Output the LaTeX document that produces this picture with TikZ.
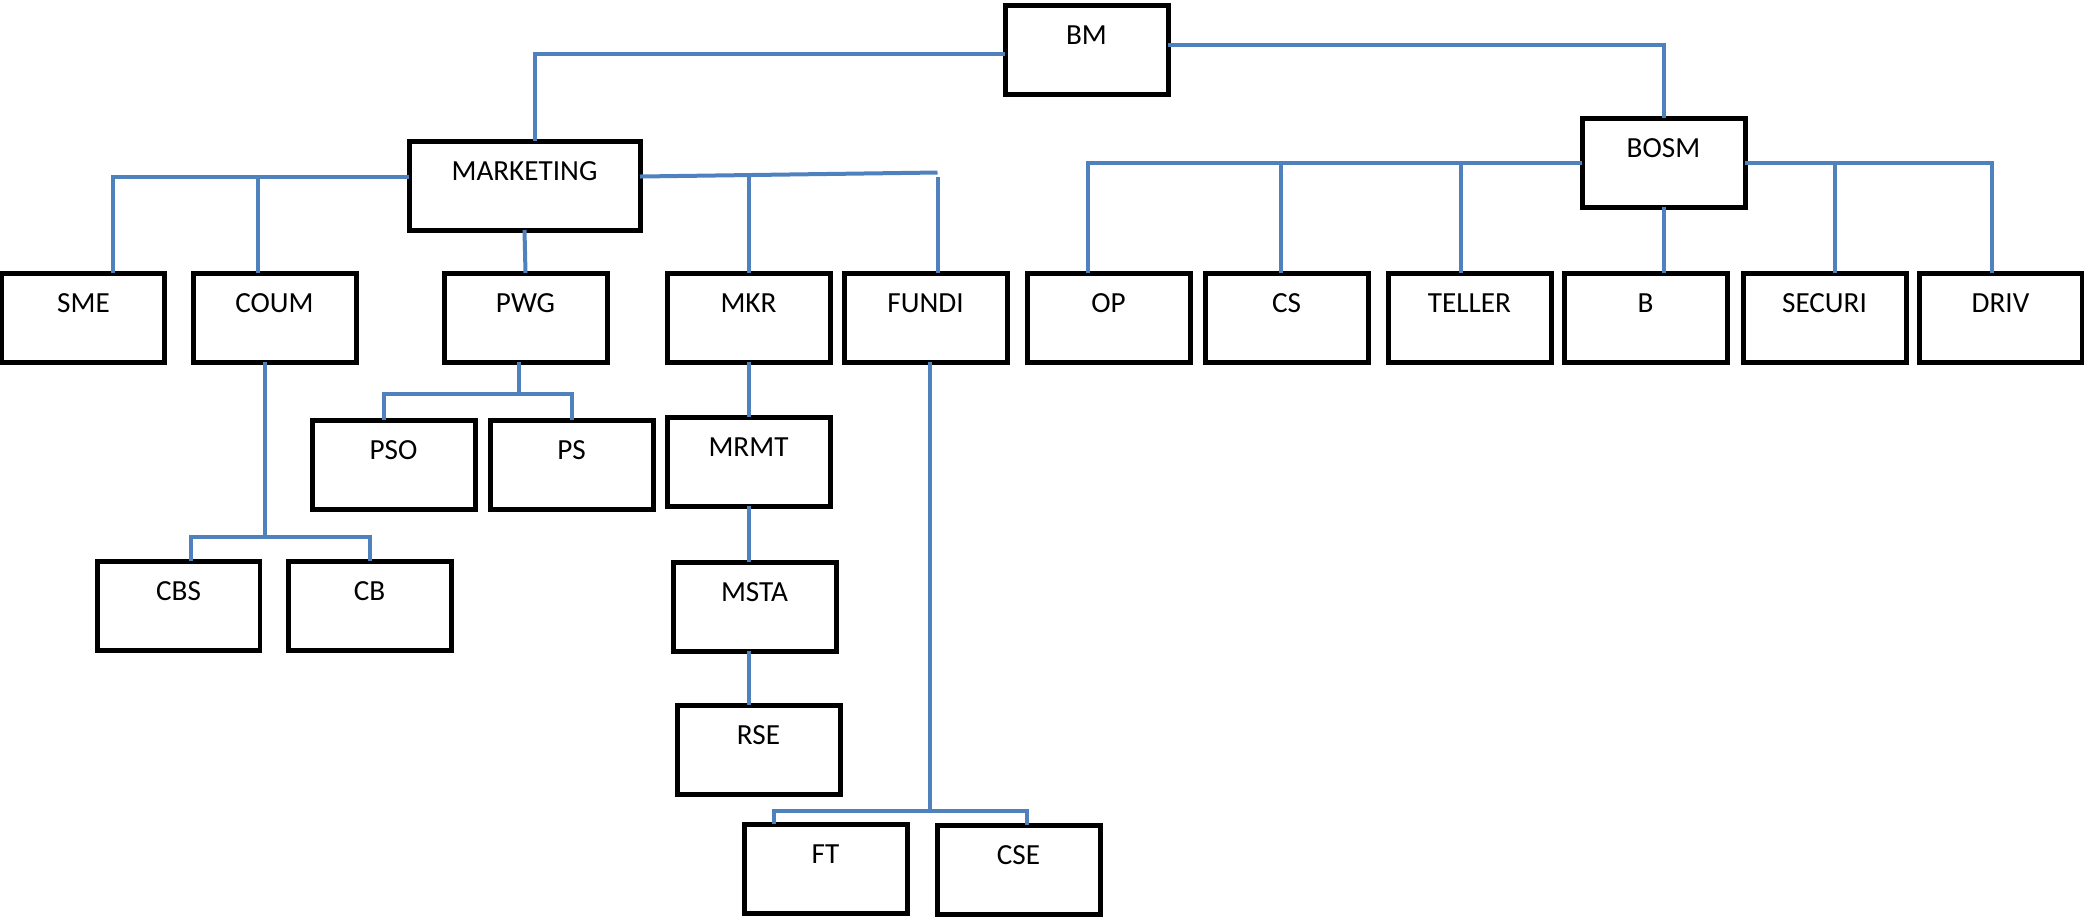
\documentclass[tikz,border=0pt]{standalone}
\usepackage{fontspec}
\setmainfont{Carlito}
\usetikzlibrary{calc}
\definecolor{linkblue}{HTML}{4F81BD}
\newcommand*{\unitw}{16.3mm}
\newcommand*{\widew}{23.1mm}
\newcommand*{\toph }{3.9mm}
\newcommand*{\both }{5.0mm}
\tikzset{
    unit/.style = {draw, line width=.5mm, anchor=north west, inner sep=0pt, outer sep=0pt, minimum width=\unitw, text height=\toph, text depth=\both},
    link/.style = {draw=linkblue, line width=.4mm}
}
\begin{document}
\begin{tikzpicture}[x=0.1mm, y=-0.1mm, font=\fontsize{8.3}{10}\selectfont]
        \useasboundingbox (0,0) rectangle (2084,916);
        % top
        \node [unit] (bm)   at (1005,5)   {BM};
        \node [unit, minimum width=\widew] (mkt) at (409,141) {MARKETING};
        \node [unit] (bosm) at (1582,118) {BOSM};
        % second row
        \node [unit] (sme)    at (2,273)    {SME};
        \node [unit] (coum)   at (193,273)  {COUM};
        \node [unit] (pwg)    at (444,273)  {PWG};
        \node [unit] (mkr)    at (667,273)  {MKR};
        \node [unit] (fundi)  at (844,273)  {FUNDI};
        \node [unit] (op)     at (1027,273) {OP};
        \node [unit] (cs)     at (1205,273) {CS};
        \node [unit] (teller) at (1388,273) {TELLER};
        \node [unit] (b)      at (1564,273) {B};
        \node [unit] (securi) at (1743,273) {SECURI};
        \node [unit] (driv)   at (1919,273) {DRIV};
        % lower rows
        \node [unit] (pso)  at (312,420) {PSO};
        \node [unit] (ps)   at (490,420) {PS};
        \node [unit] (mrmt) at (667,417) {MRMT};
        \node [unit] (msta) at (673,562) {MSTA};
        \node [unit] (rse)  at (677,705) {RSE};
        \node [unit] (cbs)  at (97,561)  {CBS};
        \node [unit] (cb)   at (288,561) {CB};
        \node [unit] (ft)   at (744,824) {FT};
        \node [unit] (cse)  at (937,825) {CSE};

        % BM lines
        \draw [link] ($(bm.west)+(0,4)$) -| ($(mkt.north)+(10,0)$);
        \draw [link] ($(bm.east)+(0,-5)$) -| (bosm.north);

        % MARKETING lines
        \coordinate (mktw)  at ($(mkt.west)+(0,-9)$);
        \coordinate (mkte)  at ($(mkt.east)+(0,-9)$);
        \coordinate (coumt) at ($(coum.north)+(-17,0)$);
        \coordinate (fundt) at ($(fundi.north)+(12,0)$);
        \draw [link] (mktw) -| ($(sme.north)+(30,0)$);
        \draw [link] (coumt) -- (coumt |- mktw);
        \draw [link] (mkte) -- ($(fundt |- mkte)+(0,-4)$);
        \draw [link] (mkr.north) -- (mkr.north |- mkte);
        \draw [link] (fundt) -- (fundt |- mkte);
        \draw [link] (mkt.south) -- (pwg.north);

        % PWG
        \coordinate (pwgj) at ($(pwg.south)+(-7,32)$);
        \draw [link] (pwgj |- pwg.south) -- (pwgj);
        \draw [link] ($(pso.north)+(-10,0)$) |- (pwgj) -| (ps.north);

        % COUM
        \coordinate (coumj) at ($(coum.south)+(-10,175)$);
        \draw [link] (coumj |- coum.south) -- (coumj);
        \draw [link] ($(cbs.north)+(12,0)$) |- (coumj) -| (cb.north);

        % MKR
        \draw [link] (mkr.south) -- (mrmt.north);
        \draw [link] (mrmt.south) -- (msta.north -| mrmt.south);
        \draw [link] (msta.south -| mrmt.south) -- (rse.north -| mrmt.south);

        % FUNDI
        \coordinate (fundj) at ($(fundi.south)+(4,449)$);
        \draw [link] (fundj |- fundi.south) -- (fundj);
        \draw [link] ($(ft.north)+(-52,0)$) |- (fundj) -| ($(cse.north)+(8,0)$);

        % BOSM lines
        \coordinate (cst)   at ($(cs.north)+(-6,0)$);
        \coordinate (tellt) at ($(teller.north)+(-9,0)$);
        \coordinate (sect)  at ($(securi.north)+(10,0)$);
        \draw [link] (bosm.west) -| ($(op.north)+(-21,0)$);
        \draw [link] (cst) -- (cst |- bosm.west);
        \draw [link] (tellt) -- (tellt |- bosm.west);
        \draw [link] (bosm.south) -- (bosm.south |- b.north);
        \draw [link] (bosm.east) -| ($(driv.north)+(-9,0)$);
        \draw [link] (sect) -- (sect |- bosm.east);
    \end{tikzpicture}
\end{document}
